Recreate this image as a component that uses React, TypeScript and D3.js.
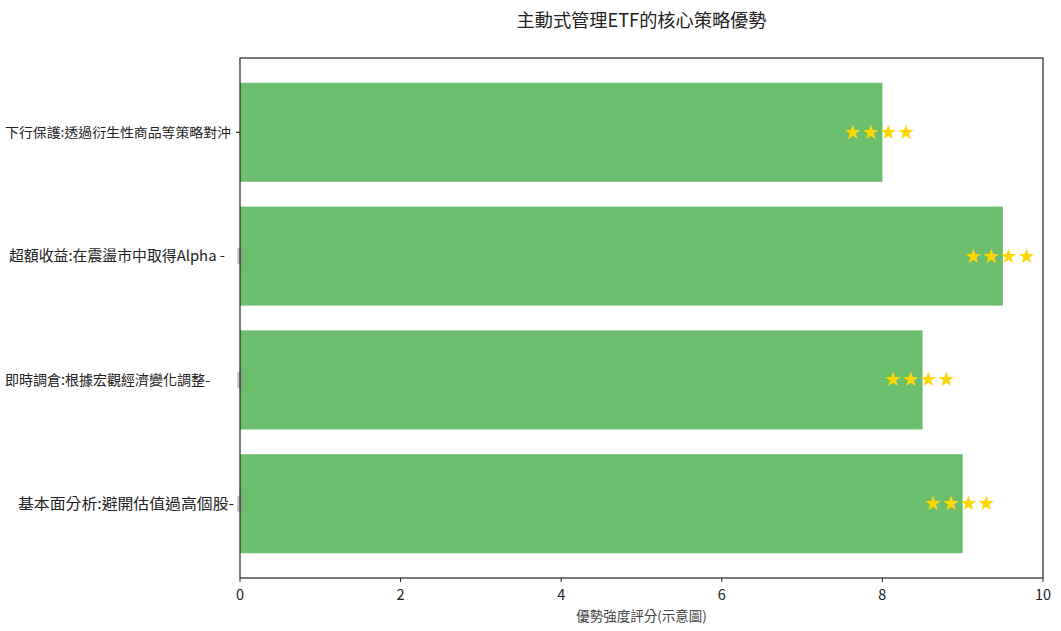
import React from "react";
import * as d3 from "d3";

const categories = [
  "下行保護:透過衍生性商品等策略對沖",
  "超額收益:在震盪市中取得Alpha -",
  "即時調倉:根據宏觀經濟變化調整-",
  "基本面分析:避開估值過高個股-",
];
const scores = [8.0, 9.5, 8.5, 9.0];
const starLabels = ["★★★★", "★★★★", "★★★★", "★★★★"];
const xTicks = [0, 2, 4, 6, 8, 10];
const labelFontSizes = [13, 14.5, 14, 15];
const labelStarts = [5, 9, 5, 18];
const labelEnds = [231, 225, 210, 234];

const W = 1061;
const H = 631;
const M = { left: 240, right: 1043, top: 58, bottom: 578 };
const FONT = "'Noto Sans CJK TC', 'Noto Sans', sans-serif";

export default function App() {
  const x = d3.scaleLinear().domain([0, 10]).range([M.left, M.right]);
  const y = d3.scaleLinear().domain([-0.6, 3.6]).range([M.top, M.bottom]);
  const barH = y(0.8) - y(0);

  return (
    <svg width={W} height={H} style={{ position: "absolute", left: 0, top: 0 }} fontFamily={FONT}>
      <rect width={W} height={H} fill="#fff" />
      <text x={(M.left + M.right) / 2} y={27} textAnchor="middle" fontSize={18.2} fill="#222">
        主動式管理ETF的核心策略優勢
      </text>
      {scores.map((v, i) => (
        <rect key={i} x={x(0)} y={y(i) - barH / 2} width={x(v) - x(0)} height={barH} fill="#6abe6c" />
      ))}
      {scores.map((v, i) => (
        <text
          key={"s" + i}
          x={x(v) - 3}
          y={y(i) + 6.5}
          textAnchor="middle"
          fontSize={20}
          fill="#FFD700"
          fontFamily="'DejaVu Sans', sans-serif"
        >
          {starLabels[i]}
        </text>
      ))}
      {categories.map((c, i) => (
        <g key={"l" + i}>
          <text
            x={labelStarts[i]}
            y={y(i) + labelFontSizes[i] * 0.36}
            fontSize={labelFontSizes[i]}
            fill="#222"
            textLength={labelEnds[i] - labelStarts[i]}
            lengthAdjust="spacingAndGlyphs"
          >
            {c}
          </text>
          {i === 0 ? (
            <line x1={M.left - 4} x2={M.left} y1={y(i)} y2={y(i)} stroke="#000" strokeWidth={1} />
          ) : (
            <rect x={M.left - 3} y={y(i) - 8} width={6} height={16} fill="#9a9a9a" opacity={0.55} />
          )}
        </g>
      ))}
      <rect
        x={M.left}
        y={M.top}
        width={M.right - M.left}
        height={M.bottom - M.top}
        fill="none"
        stroke="#222"
        strokeWidth={1.2}
      />
      {xTicks.map((t) => (
        <g key={"t" + t}>
          <line x1={x(t)} x2={x(t)} y1={M.bottom} y2={M.bottom + 4} stroke="#222" strokeWidth={1} />
          <text x={x(t)} y={M.bottom + 22} textAnchor="middle" fontSize={14.5} fill="#222">
            {t}
          </text>
        </g>
      ))}
      <text x={(M.left + M.right) / 2} y={621} textAnchor="middle" fontSize={13.5} fill="#444">
        優勢強度評分(示意圖)
      </text>
    </svg>
  );
}
